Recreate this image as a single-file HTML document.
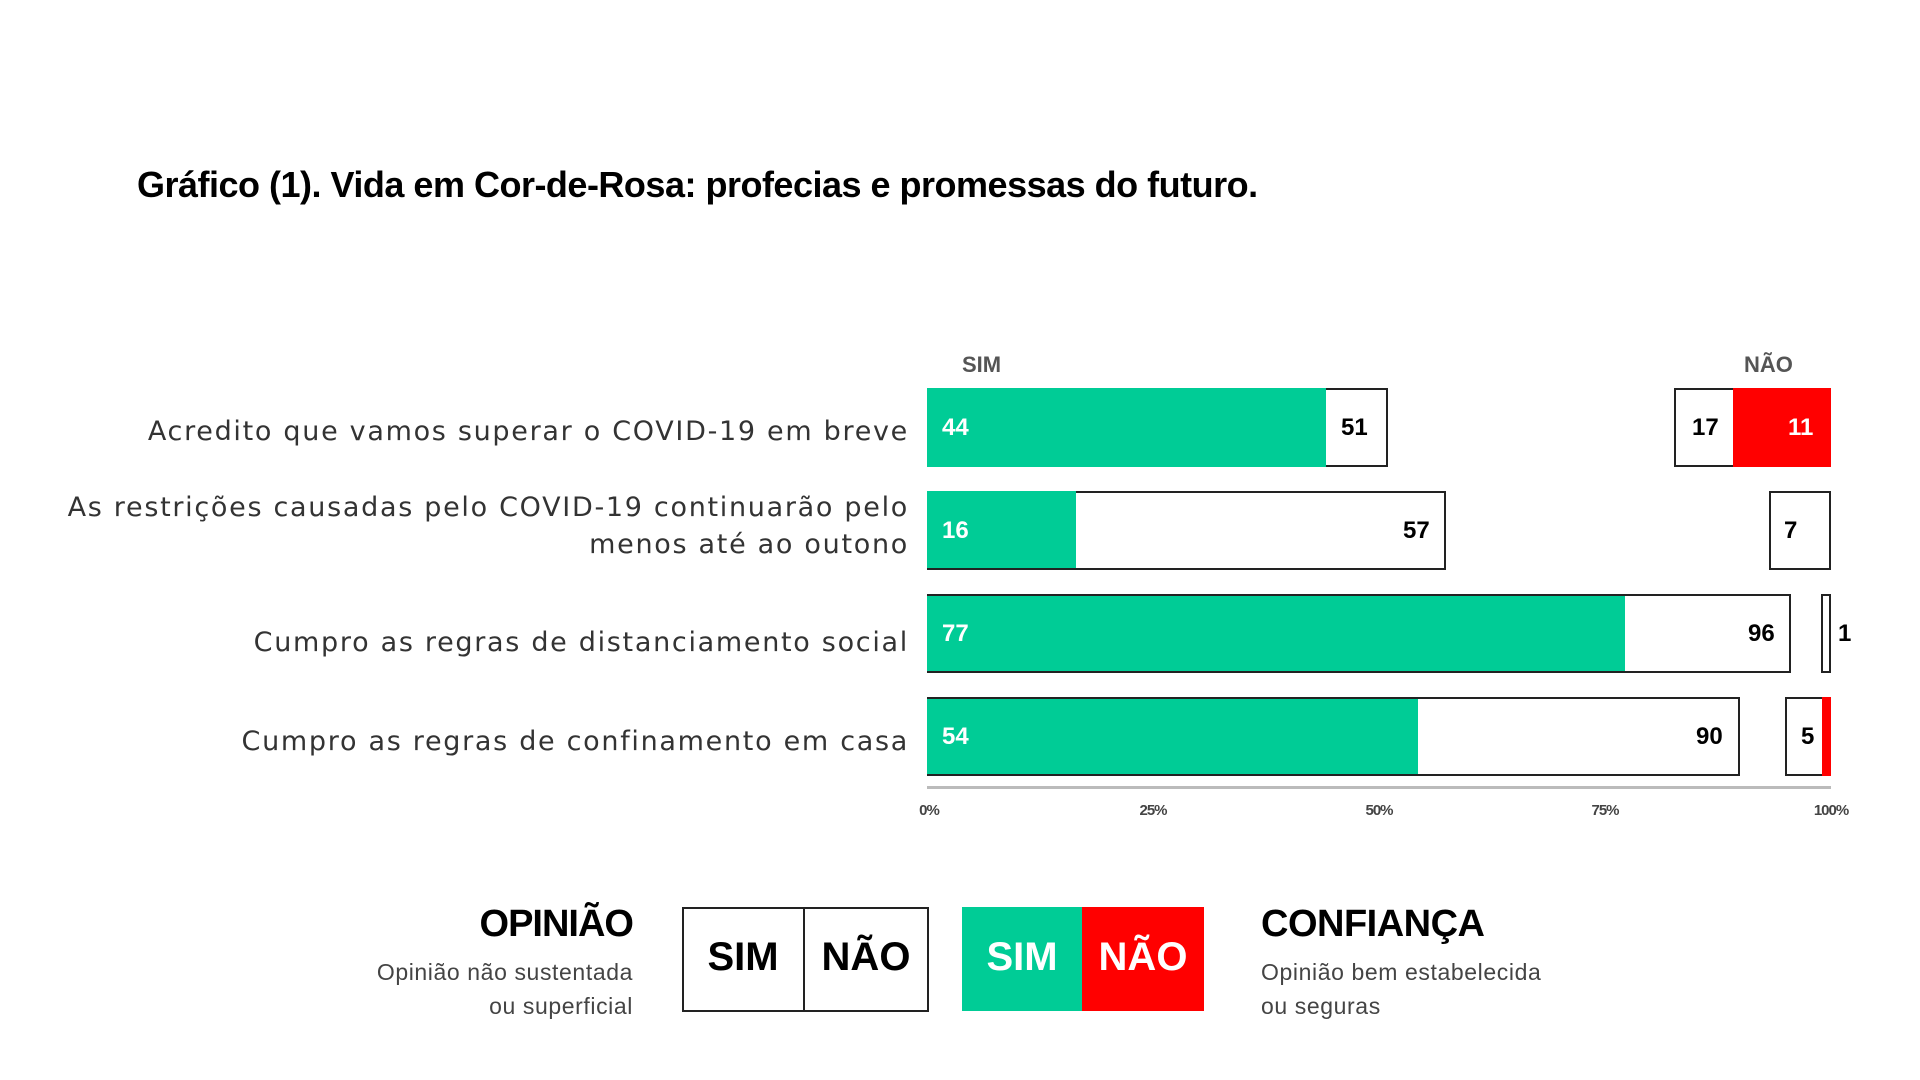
<!DOCTYPE html>
<html><head><meta charset="utf-8"><style>
body{margin:0;width:1920px;height:1080px;background:#fff;position:relative;overflow:hidden;font-family:"Liberation Sans",sans-serif}
.a{position:absolute}
.t{left:137px;top:164px;font-size:36px;font-weight:bold;color:#000;letter-spacing:-0.5px;white-space:nowrap}
.lbl{position:absolute;right:1011px;font-family:"DejaVu Sans",sans-serif;font-size:27px;letter-spacing:1.7px;color:#333;text-align:right;white-space:nowrap;line-height:37px}
.box{position:absolute;box-sizing:border-box;border:2px solid #222;background:#fff}
.g{position:absolute;background:#00CC96}
.r{position:absolute;background:#f00}
.n{position:absolute;font-size:24px;font-weight:bold;line-height:24px}
.w{color:#fff}
.tick{position:absolute;top:802px;font-size:15px;font-weight:bold;color:#444;transform:translateX(-50%);letter-spacing:-1px}
.hd{position:absolute;top:352px;font-size:22px;font-weight:bold;color:#555}
</style></head><body>
<div class="a t">Gráfico (1). Vida em Cor-de-Rosa: profecias e promessas do futuro.</div>

<div class="hd" style="left:962px">SIM</div>
<div class="hd" style="left:1744px">NÃO</div>

<div class="lbl" style="top:413px">Acredito que vamos superar o COVID-19 em breve</div>
<div class="lbl" style="top:489px">As restrições causadas pelo COVID-19 continuarão pelo<br>menos até ao outono</div>
<div class="lbl" style="top:624px">Cumpro as regras de distanciamento social</div>
<div class="lbl" style="top:723px">Cumpro as regras de confinamento em casa</div>

<!-- row1 -->
<div class="box" style="left:927px;top:388px;width:461px;height:79px"></div>
<div class="g" style="left:927px;top:388px;width:399px;height:79px"></div>
<div class="n w" style="left:942px;top:416px">44</div>
<div class="n" style="left:1341px;top:416px">51</div>
<div class="box" style="left:1674px;top:388px;width:157px;height:79px"></div>
<div class="r" style="left:1733px;top:388px;width:98px;height:79px"></div>
<div class="n" style="left:1692px;top:416px">17</div>
<div class="n w" style="left:1788px;top:416px">11</div>

<!-- row2 -->
<div class="box" style="left:927px;top:491px;width:519px;height:79px"></div>
<div class="g" style="left:927px;top:491px;width:149px;height:77px"></div>
<div class="n w" style="left:942px;top:519px">16</div>
<div class="n" style="left:1403px;top:519px">57</div>
<div class="box" style="left:1769px;top:491px;width:62px;height:79px"></div>
<div class="n" style="left:1784px;top:519px">7</div>

<!-- row3 -->
<div class="box" style="left:927px;top:594px;width:864px;height:79px"></div>
<div class="g" style="left:927px;top:596px;width:698px;height:75px"></div>
<div class="n w" style="left:942px;top:622px">77</div>
<div class="n" style="left:1748px;top:622px">96</div>
<div class="box" style="left:1821px;top:594px;width:10px;height:79px"></div>
<div class="n" style="left:1838px;top:622px">1</div>

<!-- row4 -->
<div class="box" style="left:927px;top:697px;width:813px;height:79px"></div>
<div class="g" style="left:927px;top:699px;width:491px;height:75px"></div>
<div class="n w" style="left:942px;top:725px">54</div>
<div class="n" style="left:1696px;top:725px">90</div>
<div class="box" style="left:1785px;top:697px;width:46px;height:79px"></div>
<div class="r" style="left:1822px;top:697px;width:9px;height:79px"></div>
<div class="n" style="left:1801px;top:725px">5</div>

<!-- axis -->
<div class="a" style="left:927px;top:786px;width:904px;height:3px;background:#bbb"></div>
<div class="tick" style="left:929px">0%</div>
<div class="tick" style="left:1153px">25%</div>
<div class="tick" style="left:1379px">50%</div>
<div class="tick" style="left:1605px">75%</div>
<div class="tick" style="left:1831px">100%</div>

<!-- legend -->
<div class="a" style="right:1287px;top:903px;font-size:38px;font-weight:bold;letter-spacing:-1px">OPINIÃO</div>
<div class="a" style="right:1287px;top:955px;font-size:23px;color:#444;text-align:right;line-height:34px;letter-spacing:0.6px">Opinião não sustentada<br>ou superficial</div>
<div class="box" style="left:682px;top:907px;width:247px;height:105px"></div>
<div class="a" style="left:803px;top:907px;width:2px;height:105px;background:#222"></div>
<div class="a" style="left:682px;top:935px;width:122px;text-align:center;font-size:40px;font-weight:bold">SIM</div>
<div class="a" style="left:804px;top:935px;width:124px;text-align:center;font-size:40px;font-weight:bold">NÃO</div>
<div class="g" style="left:962px;top:907px;width:120px;height:104px"></div>
<div class="r" style="left:1082px;top:907px;width:122px;height:104px"></div>
<div class="a" style="left:962px;top:935px;width:120px;text-align:center;font-size:40px;font-weight:bold;color:#fff">SIM</div>
<div class="a" style="left:1082px;top:935px;width:122px;text-align:center;font-size:40px;font-weight:bold;color:#fff">NÃO</div>
<div class="a" style="left:1261px;top:903px;font-size:38px;font-weight:bold;letter-spacing:-0.5px">CONFIANÇA</div>
<div class="a" style="left:1261px;top:955px;font-size:23px;color:#444;line-height:34px;letter-spacing:0.6px">Opinião bem estabelecida<br>ou seguras</div>
</body></html>
